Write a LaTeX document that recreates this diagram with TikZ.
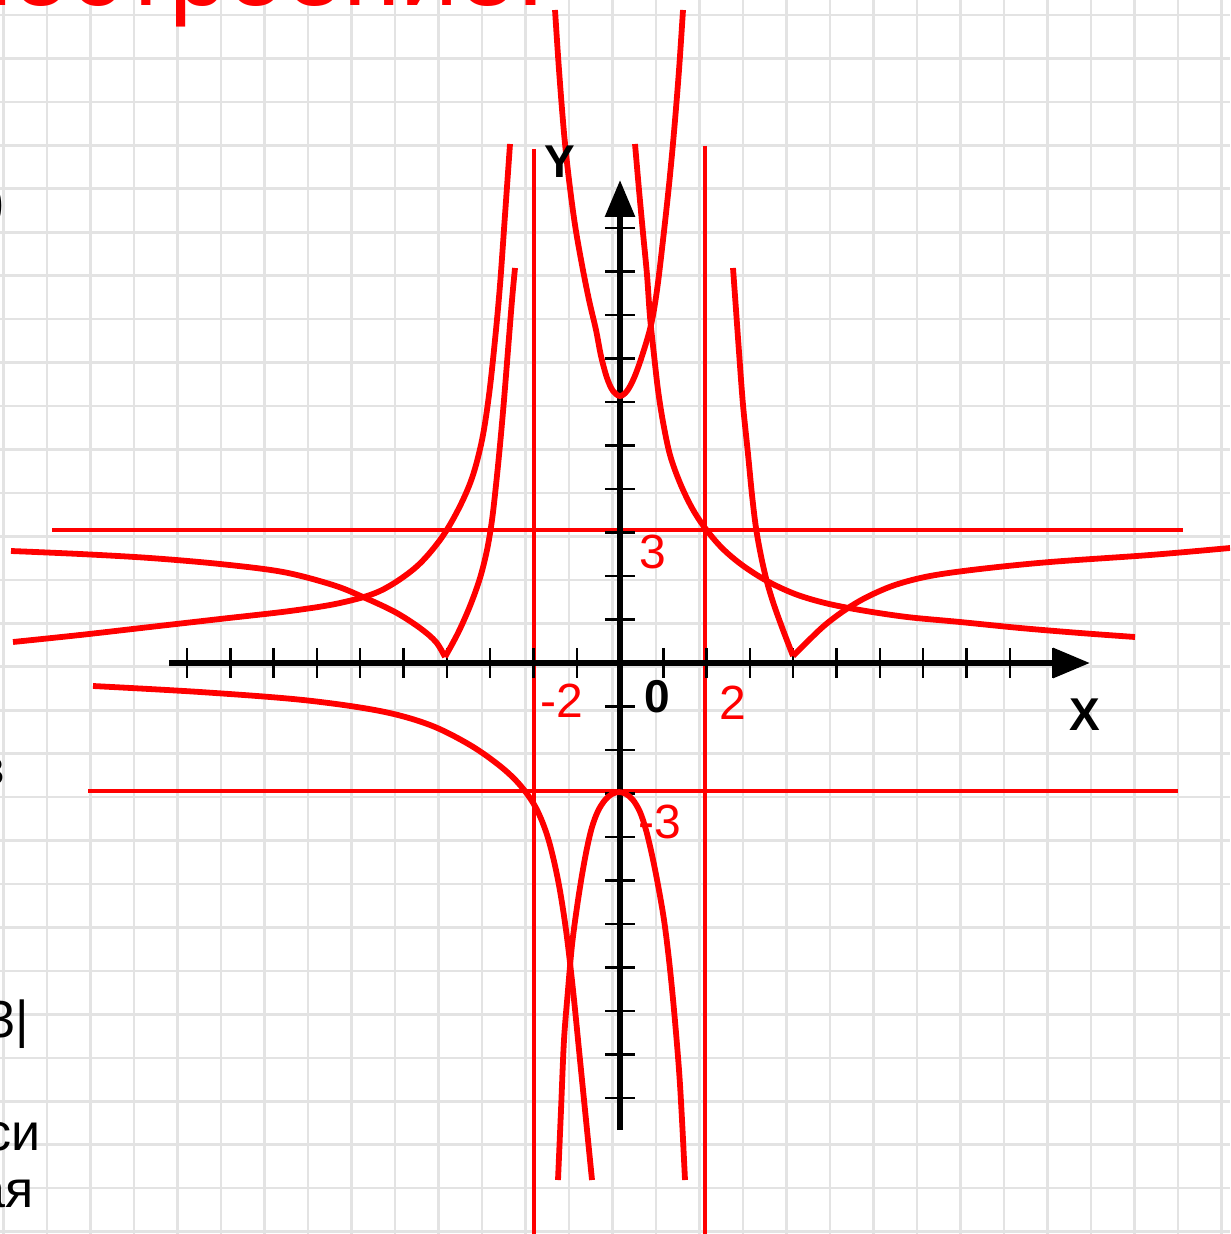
\documentclass[tikz,border=0pt]{standalone}
\usepackage{fontspec}
\setmainfont{Liberation Sans}
\usetikzlibrary{arrows.meta}
\begin{document}
\begin{tikzpicture}[x=0.5pt,y=-0.5pt,
  gridline/.style={black!11, line width=1.3pt},
  curve/.style={red, line width=2.9pt, line join=round},
  asym/.style={red, line width=1.7pt},
  axis/.style={black, line width=3pt, -{Triangle[length=18.5pt,width=14.5pt]}},
  tickmark/.style={black, line width=1.2pt},
  rlbl/.style={red, inner sep=0pt, font=\fontsize{24}{24}\selectfont},
  blbl/.style={black, inner sep=0pt, font=\bfseries\fontsize{23}{23}\selectfont},
  frag/.style={black, inner sep=0pt, font=\fontsize{26}{26}\selectfont},
]
\useasboundingbox (0,0) rectangle (1230,1234);
\clip (0,0) rectangle (1230,1234);
\fill[white] (0,0) rectangle (1230,1234);
% graph paper
\foreach \k in {0,...,28} {
  \draw[gridline] ({3.5+43.5*\k},0) -- ({3.5+43.5*\k},1234);
  \draw[gridline] (0,{15+43.45*\k}) -- (1230,{15+43.45*\k});
}
% title fragment
\node[red, inner sep=0pt, anchor=base east, font=\fontsize{52}{52}\selectfont] (title) at (546,6) {построение:};
% left text fragments
\node[black, inner sep=0pt, anchor=base east, font=\fontsize{30}{30}\selectfont] (f1) at (6,222) {)};
\node[frag, anchor=base east] (f2) at (6,785) {в};
\node[frag, anchor=base east] (f3) at (29,1037) {3|};
\node[frag, anchor=base east] (f4) at (41,1150) {си};
\node[frag, anchor=base east] (f5) at (34,1207) {ая};
% asymptotes
\draw[asym] (534,149) -- (534,1234);
\draw[asym] (705,146) -- (705,1234);
\draw[asym] (52,530) -- (1183,530);
\draw[asym] (88,791) -- (1178,791);
% axes
\coordinate (xs) at (169,663);
\coordinate (xe) at (1090,663);
\coordinate (ys) at (620,1130);
\coordinate (ye) at (620,180);
\draw[axis] (xs) -- (xe);
\draw[axis] (ys) -- (ye);
\foreach \k in {-10,...,-1,1,2,...,10} {
  \draw[tickmark] ({620+43.3*\k},648) -- ({620+43.3*\k},678);
  \draw[tickmark] (605,{663-43.5*\k}) -- (635,{663-43.5*\k});
}
% curves
\draw[curve] plot[smooth, tension=0.55] coordinates {(555,10) (559,70) (564,133) (569,180) (575,225) (582,265) (589,300) (596,330) (601,356) (607,378) (613,391) (620,396) (627,391) (634,378) (642,356) (651,325) (657,290) (663,240) (669,185) (674,132) (679,70) (683,10)};
\draw[curve] plot[smooth, tension=0.55] coordinates {(635,144) (639,190) (643,233) (647,275) (650,317) (654,355) (658,390) (663,422) (670,455) (680,483) (692,508) (705,528) (722,548) (742,565) (767,581) (795,594) (825,603) (860,610) (907,617) (960,622) (1020,628) (1080,633) (1135,637)};
\draw[curve] plot[smooth, tension=0.55] coordinates {(733,268) (736,310) (739,352) (743,405) (748,454) (752,495) (756,528) (761,556) (767,582) (774,605) (783,630) (793,656)};
\draw[curve] plot[smooth, tension=0.55] coordinates {(793,656) (808,641) (825,625) (845,610) (867,597) (895,585) (930,576) (980,569) (1050,562) (1150,555) (1230,548)};
\draw[curve] plot[smooth, tension=0.55] coordinates {(11,551) (80,554) (150,558) (220,564) (283,572) (333,585) (363,597) (395,612) (420,628) (436,642) (445,657)};
\draw[curve] plot[smooth, tension=0.55] coordinates {(445,657) (458,633) (470,606) (480,578) (487,550) (492,520) (496,485) (500,445) (504,400) (508,350) (512,300) (515,268)};
\draw[curve] plot[smooth, tension=0.55] coordinates {(13,642) (80,635) (150,627) (220,619) (290,611) (340,603) (380,591) (415,568) (440,540) (458,510) (472,478) (482,440) (489,395) (495,340) (500,285) (505,215) (510,144)};
\draw[curve] plot[smooth, tension=0.55] coordinates {(93,686) (200,692) (303,700) (380,711) (430,725) (470,745) (500,766) (520,785) (536,808) (548,838) (558,880) (566,930) (573,990) (580,1060) (587,1130) (592,1180)};
\draw[curve] plot[smooth, tension=0.55] coordinates {(558,1180) (561,1110) (564,1040) (568,990) (572,945) (577,907) (582,875) (587,848) (592,827) (598,811) (605,800) (612,794) (619,792) (626,794) (633,800) (640,812) (646,830) (652,855) (658,885) (664,920) (669,960) (674,1010) (679,1070) (682,1120) (685,1180)};
% labels
\node[rlbl] (l3) at (653,552) {3};
\node[rlbl] (lm2) at (562,701) {-2};
\node[rlbl] (l2) at (733,703) {2};
\node[rlbl] (lm3) at (660,822) {-3};
\node[blbl] (l0) at (657,697) {0};
\node[blbl] (lx) at (1085,715) {X};
\node[blbl] (ly) at (560,162) {Y};
\end{tikzpicture}
\end{document}
